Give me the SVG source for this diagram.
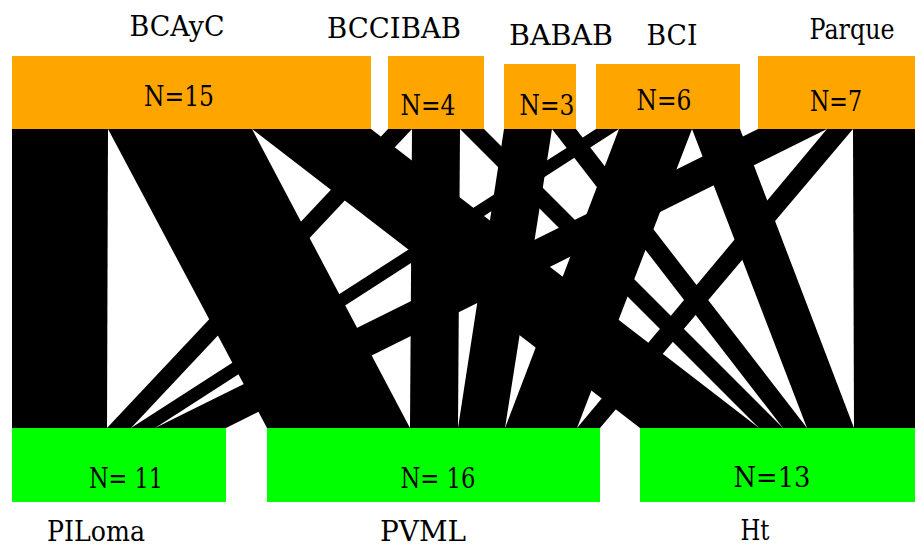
<svg xmlns="http://www.w3.org/2000/svg" width="915" height="547" viewBox="0 0 915 547">
<style>
text{font-family:'DejaVu Serif','Liberation Serif',serif;font-size:27px;fill:#000;text-anchor:middle}
.hi{fill:#FFA500}
.lo{fill:#00FF00}
.lk{fill:#000;stroke:none}
</style>
<rect x="0" y="0" width="915" height="547" fill="#fff"/>
<g id="links">
<polygon class="lk" points="12,129 108,129 107,428 12,428"/>
<polygon class="lk" points="108,129 252,129 410,428 267,428"/>
<polygon class="lk" points="252,129 371,129 759,428 640,428"/>
<polygon class="lk" points="388,129 412,129 131,428 107,428"/>
<polygon class="lk" points="412,129 460,129 458,428 410,428"/>
<polygon class="lk" points="460,129 484,129 783,428 759,428"/>
<polygon class="lk" points="504,129 552,129 505,428 458,428"/>
<polygon class="lk" points="552,129 576,129 807,428 783,428"/>
<polygon class="lk" points="596,129 619,129 155,428 131,428"/>
<polygon class="lk" points="619,129 692,129 577,428 505,428"/>
<polygon class="lk" points="692,129 740,129 854,428 807,428"/>
<polygon class="lk" points="758,129 827,129 226,428 155,428"/>
<polygon class="lk" points="827,129 853,129 600,428 577,428"/>
<polygon class="lk" points="853,129 926,129 926,428 854,428"/>
</g>
<g id="BCAyC">
<rect class="hi" x="12" y="56" width="359" height="73"/>
<text x="177" y="36" textLength="95" lengthAdjust="spacingAndGlyphs">BCAyC</text>
<text x="179" y="106" textLength="70" lengthAdjust="spacingAndGlyphs">N=15</text>
</g>
<g id="BCCIBAB">
<rect class="hi" x="388" y="56" width="96" height="73"/>
<text x="394" y="38" textLength="134" lengthAdjust="spacingAndGlyphs">BCCIBAB</text>
<text x="428" y="115" textLength="55" lengthAdjust="spacingAndGlyphs">N=4</text>
</g>
<g id="BABAB">
<rect class="hi" x="504" y="64" width="72" height="65"/>
<text x="561" y="45" textLength="104" lengthAdjust="spacingAndGlyphs">BABAB</text>
<text x="547" y="115" textLength="55" lengthAdjust="spacingAndGlyphs">N=3</text>
</g>
<g id="BCI">
<rect class="hi" x="596" y="64" width="144" height="65"/>
<text x="672" y="45" textLength="51" lengthAdjust="spacingAndGlyphs">BCI</text>
<text x="664" y="110" textLength="55" lengthAdjust="spacingAndGlyphs">N=6</text>
</g>
<g id="Parque">
<rect class="hi" x="758" y="56" width="168" height="73"/>
<text x="852" y="39" textLength="85" lengthAdjust="spacingAndGlyphs">Parque</text>
<text x="836" y="111" textLength="52" lengthAdjust="spacingAndGlyphs">N=7</text>
</g>
<g id="PILoma">
<rect class="lo" x="12" y="428" width="214" height="74"/>
<text x="126" y="488" textLength="74" lengthAdjust="spacingAndGlyphs">N= 11</text>
<text x="96" y="541" textLength="98" lengthAdjust="spacingAndGlyphs">PILoma</text>
</g>
<g id="PVML">
<rect class="lo" x="267" y="428" width="333" height="74"/>
<text x="438" y="488" textLength="75" lengthAdjust="spacingAndGlyphs">N= 16</text>
<text x="423" y="541" textLength="86" lengthAdjust="spacingAndGlyphs">PVML</text>
</g>
<g id="Ht">
<rect class="lo" x="640" y="428" width="288" height="74"/>
<text x="772" y="487" textLength="77" lengthAdjust="spacingAndGlyphs">N=13</text>
<text x="755" y="540" textLength="29" lengthAdjust="spacingAndGlyphs">Ht</text>
</g>
</svg>
